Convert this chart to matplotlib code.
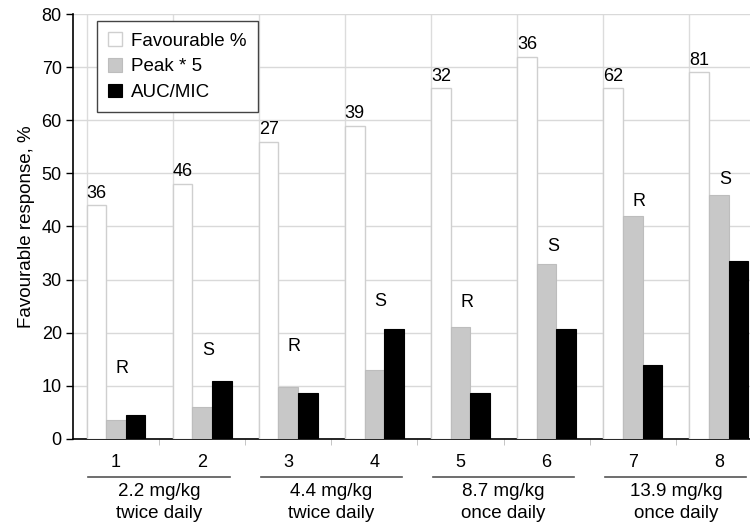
import matplotlib
matplotlib.use("Agg")
import matplotlib.pyplot as plt
import numpy as np

plt.rcParams['font.family'] = ['Liberation Sans', 'DejaVu Sans']

categories = ['1', '2', '3', '4', '5', '6', '7', '8']
favourable = [44, 48, 56, 59, 66, 72, 66, 69]
peak5 = [3.6, 6, 9.7, 13, 21, 33, 42, 46]
auc_mic = [4.5, 11, 8.7, 20.7, 8.7, 20.7, 14, 33.5]
n_labels = ['36', '46', '27', '39', '32', '36', '62', '81']
rs_labels = ['R', 'S', 'R', 'S', 'R', 'S', 'R', 'S']
rs_heights = [13.2, 16.6, 17.4, 25.8, 25.7, 36.2, 44.8, 48.8]
groups = ['2.2 mg/kg\ntwice daily', '4.4 mg/kg\ntwice daily',
          '8.7 mg/kg\nonce daily', '13.9 mg/kg\nonce daily']

FS = 13

fig = plt.figure(figsize=(7.5, 5.31), dpi=100)
ax = fig.add_axes([0.0973, 0.1733, 0.9187, 0.8003])

x = np.arange(len(categories))
w = 0.228
ax.bar(x - w, favourable, w, color='white', edgecolor='#cfcfcf', linewidth=1, label='Favourable %', zorder=3)
ax.bar(x, peak5, w, color='#c8c8c8', edgecolor='#bdbdbd', linewidth=0.8, label='Peak * 5', zorder=3)
ax.bar(x + w, auc_mic, w, color='black', edgecolor='black', linewidth=0.8, label='AUC/MIC', zorder=3)

for xi, v, t in zip(x, favourable, n_labels):
    ax.text(xi - w, v + 0.7, t, ha='center', va='bottom', fontsize=FS, zorder=4)
for xi, h, t in zip(x, rs_heights, rs_labels):
    ax.text(xi + 0.07, h, t, ha='center', va='center', fontsize=FS, zorder=4)

ax.set_ylim(0, 80)
ax.set_xlim(-0.5, len(categories) - 0.5)
ax.set_yticks(np.arange(0, 81, 10))
ax.yaxis.grid(True, color='#d9d9d9', linewidth=1, zorder=0)
for xi in x:
    ax.axvline(xi - 1.5 * w, color='#dcdcdc', linewidth=1, zorder=0)
ax.set_axisbelow(True)

ax.set_xticks(x)
ax.set_xticklabels(categories, fontsize=FS)
ax.tick_params(axis='x', length=0, pad=11)
ax.set_xticks(np.arange(0.5, len(categories) - 0.5, 1), minor=True)
ax.tick_params(axis='x', which='minor', length=4, color='#bbbbbb')
ax.tick_params(axis='y', labelsize=FS, length=5, width=1, pad=3)

for s in ['top', 'right']:
    ax.spines[s].set_visible(False)
ax.spines['left'].set_linewidth(1.2)
ax.spines['bottom'].set_linewidth(1.2)

ax.set_ylabel('Favourable response, %', fontsize=13.5, labelpad=5)

trans = ax.get_xaxis_transform()
for gi, g in enumerate(groups):
    gc = 2 * gi + 0.5
    ax.plot([gc - 0.82, gc + 0.82], [-0.089, -0.089], transform=trans, color='#555555',
            linewidth=1.2, clip_on=False)
    ax.text(gc, -0.104, g, transform=trans, ha='center', va='top', fontsize=13.5,
            linespacing=1.35)

leg = ax.legend(loc='upper left', bbox_to_anchor=(0.035, 0.983), fontsize=13.5,
                frameon=True, fancybox=False, edgecolor='#444444', framealpha=1,
                handlelength=0.72, handleheight=0.72, handletextpad=0.5,
                borderpad=0.6, labelspacing=0.45, borderaxespad=0)
leg.get_frame().set_linewidth(1)

fig.savefig('out.png', dpi=100)
